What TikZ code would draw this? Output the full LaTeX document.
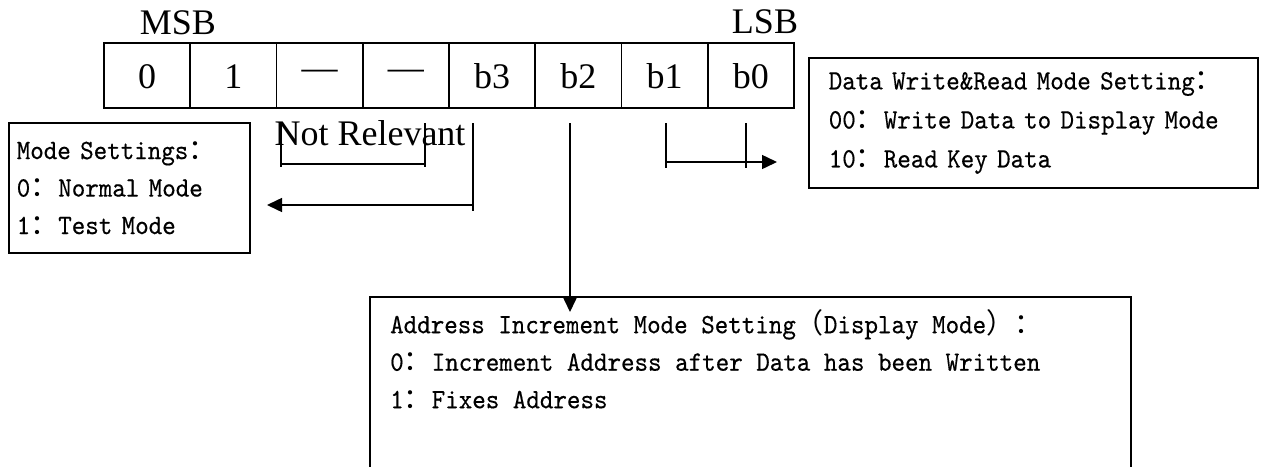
\documentclass[tikz,border=0pt]{standalone}
\usepackage{fontspec}
\setmainfont{Liberation Serif}
\setmonofont{lmmono10-regular.otf}[FakeStretch=0.92,FakeBold=0.4]
\newfontfamily\cjkfont{Noto Sans CJK SC}
\usetikzlibrary{arrows.meta}
\newcommand\fwc{{\cjkfont ：}}
\begin{document}
\begin{tikzpicture}[x=1pt,y=-1pt,
  cell/.style={draw, line width=1.8pt, minimum width=86.25pt, minimum height=65pt, inner sep=0pt,
    text height=26pt, text depth=0pt, font=\fontsize{36}{43}\selectfont},
  lbl/.style={inner sep=0pt, font=\fontsize{36}{43}\selectfont},
  note/.style={draw, line width=1.5pt, align=left, anchor=north west,
    font=\fontsize{28}{37.5}\selectfont\ttfamily},
  notetext/.style={inner sep=0pt, align=left, anchor=north west,
    font=\fontsize{28}{37.5}\selectfont\ttfamily},
  wire/.style={line width=1.5pt},
  arr/.style={line width=1.5pt, -{Triangle[length=15pt,width=14pt]}}
]
\useasboundingbox (0,0) rectangle (1264,466);
\clip (0,0) rectangle (1264,466);

% register
\node[cell] (c0) at (147.1,75.5) {0};
\node[cell] (c1) at (233.4,75.5) {1};
\node[cell] (c2) at (319.6,75.5) {\raisebox{9pt}{—}};
\node[cell] (c3) at (405.9,75.5) {\raisebox{9pt}{—}};
\node[cell] (c4) at (492.1,75.5) {b3};
\node[cell] (c5) at (578.4,75.5) {b2};
\node[cell] (c6) at (664.6,75.5) {b1};
\node[cell] (c7) at (750.9,75.5) {b0};

\node[lbl, anchor=base] (msb) at (178,34) {MSB};
\node[lbl, anchor=base] (lsb) at (765,33) {LSB};
\node[lbl, anchor=base] (nr) at (370,145) {Not Relevant};

% description boxes
\node[note, minimum height=130pt, text width=225pt, inner xsep=8pt] (mode) at (8,122)
  {Mode Settings\fwc\\0\fwc Normal Mode\\1\fwc Test Mode};
\node[note, minimum height=130pt, text width=409pt, inner xsep=20pt,
  font=\fontsize{28}{39}\selectfont\ttfamily] (data) at (808,57)
  {Data Write\&Read Mode Setting\fwc\\00\fwc Write Data to Display Mode\\10\fwc Read Key Data\rule[-6pt]{0pt}{0pt}};
\node[note, minimum width=761pt, minimum height=220pt] (addr) at (369,296) {};
\node[notetext] (addrtxt) at (390,309)
  {\rule{0pt}{24pt}Address Increment Mode Setting{\cjkfont （}Display Mode{\cjkfont ）}\fwc\\
   0\fwc Increment Address after Data has been Written\\
   1\fwc Fixes Address};

% connector coordinates
\coordinate (nrA) at (281,123);
\coordinate (nrB) at (425,123);
\coordinate (b3top) at (473,123);
\coordinate (b3bot) at (473,211);
\coordinate (b3turn) at (473,205);
\coordinate (modetip) at (267,205);
\coordinate (b2top) at (570,123);
\coordinate (b2tip) at (570,312);
\coordinate (b1top) at (666,123);
\coordinate (b0top) at (746,123);
\coordinate (b1turn) at (666,162);
\coordinate (datatip) at (777,162);

% not relevant bracket
\draw[wire] (nrA) -- ++(0,44);
\draw[wire] (nrB) -- ++(0,44);
\draw[wire] (281,164) -- (425,164);
% b3 -> mode settings
\draw[wire] (b3top) -- (b3bot);
\draw[arr] (b3turn) -- (modetip);
% b2 -> address increment
\draw[arr] (b2top) -- (b2tip);
% b1 b0 -> data mode
\draw[wire] (b1top) -- ++(0,45);
\draw[wire] (b0top) -- ++(0,45);
\draw[arr] (b1turn) -- (datatip);
\end{tikzpicture}
\end{document}
